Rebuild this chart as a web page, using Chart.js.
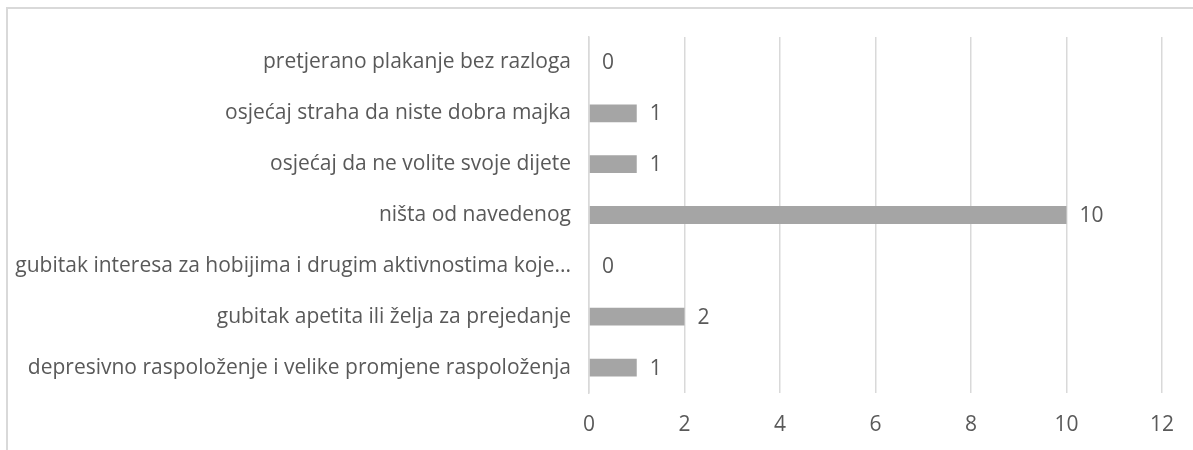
<!DOCTYPE html>
<html>
<head>
<meta charset="utf-8">
<script src="https://cdn.jsdelivr.net/npm/chart.js@4/dist/chart.umd.min.js"></script>
<style>
  html, body { margin: 0; padding: 0; background: #fff; overflow: hidden; }
  #okvir { position: absolute; left: 6px; top: 7px; width: 1300px; height: 600px; border: 2px solid #d9d9d9; }
  #kutija { position: absolute; left: 0; top: 0; width: 1193px; height: 450px; }
</style>
</head>
<body>
<div id="okvir"></div>
<div id="kutija"><canvas id="graf"></canvas></div>
<script>
// Kategorije (odozgo prema dolje) i broj odgovora
const kategorije = [
  'pretjerano plakanje bez razloga',
  'osjećaj straha da niste dobra majka',
  'osjećaj da ne volite svoje dijete',
  'ništa od navedenog',
  'gubitak interesa za hobijima i drugim aktivnostima koje...',
  'gubitak apetita ili želja za prejedanje',
  'depresivno raspoloženje i velike promjene raspoloženja'
];
const odgovori = [0, 1, 1, 10, 0, 2, 1];
const xMin = 0, xMax = 12, xKorak = 2;

const fontObitelj = '"Open Sans", Lato, sans-serif';
const velicinaFonta = 21;
const sivaTekst = '#595959';

// Oznake vrijednosti desno od stupca
const oznakeVrijednosti = {
  id: 'oznakeVrijednosti',
  afterDatasetsDraw(chart) {
    const ctx = chart.ctx;
    const meta = chart.getDatasetMeta(0);
    ctx.save();
    ctx.font = velicinaFonta + 'px ' + fontObitelj;
    ctx.fillStyle = sivaTekst;
    ctx.textAlign = 'left';
    ctx.textBaseline = 'middle';
    meta.data.forEach((bar, i) => {
      ctx.fillText(String(odgovori[i]), bar.x + 13, bar.y + 1);
    });
    ctx.restore();
  }
};

new Chart(document.getElementById('graf'), {
  type: 'bar',
  data: {
    labels: kategorije,
    datasets: [{
      data: odgovori,
      backgroundColor: '#a5a5a5',
      borderWidth: 0,
      categoryPercentage: 1,
      barPercentage: 0.35
    }]
  },
  options: {
    indexAxis: 'y',
    responsive: true,
    maintainAspectRatio: false,
    animation: false,
    layout: { padding: { top: 37, right: 30, left: 0, bottom: 0 } },
    plugins: {
      legend: { display: false },
      tooltip: { enabled: false }
    },
    scales: {
      x: {
        min: xMin,
        max: xMax,
        ticks: { stepSize: xKorak, color: sivaTekst, padding: 19, font: { family: fontObitelj, size: velicinaFonta } },
        grid: { color: '#d9d9d9', lineWidth: 1.5, drawTicks: false },
        border: { display: false },
        afterFit(scale) { scale.height = 450 - 393; }
      },
      y: {
        ticks: { color: sivaTekst, padding: 18, font: { family: fontObitelj, size: velicinaFonta } },
        grid: { display: false, drawTicks: false },
        border: { display: true, color: '#d9d9d9', width: 1.5 },
        afterFit(scale) { scale.width = 589; }
      }
    }
  },
  plugins: [oznakeVrijednosti]
});
</script>
</body>
</html>
